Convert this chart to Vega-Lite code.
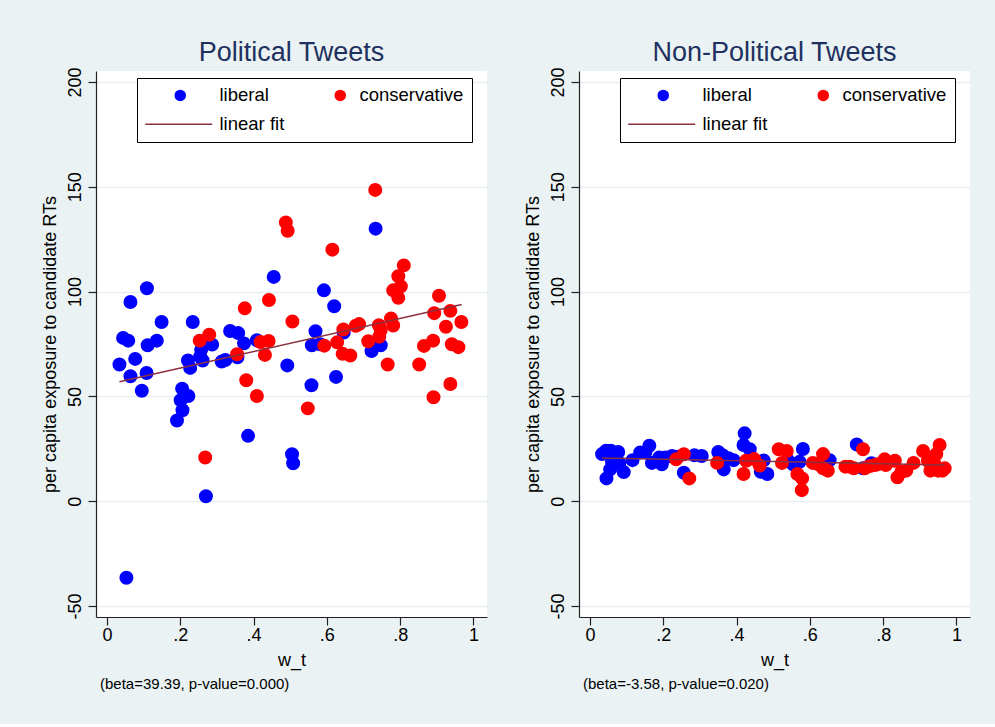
{
  "$schema": "https://vega.github.io/schema/vega-lite/v6.json",
  "background": "#EAF2F3",
  "padding": {"left": 41, "top": 38, "right": 25, "bottom": 32},
  "config": {
    "view": {"fill": "white", "stroke": null},
    "font": "Liberation Sans",
    "axis": {"labelFont": "Liberation Sans", "titleFont": "Liberation Sans", "labelColor": "black", "titleColor": "black", "titleFontWeight": "normal", "labelFontSize": 18, "titleFontSize": 18, "domainColor": "#222222", "domainWidth": 1.2, "tickColor": "#222222", "tickWidth": 1.2, "tickSize": 8},
    "legend": {"labelFont": "Liberation Sans", "title": null, "orient": "none", "legendX": 41, "legendY": 7, "direction": "horizontal", "columns": 2, "gridAlign": "each", "columnPadding": 0, "rowPadding": 10, "padding": 8, "strokeColor": "black", "fillColor": "white", "labelFontSize": 18.5, "labelColor": "black", "labelOffset": 26, "symbolOffset": 30, "symbolSize": 100, "symbolStrokeWidth": 1.5}
  },
  "datasets": {
    "political": [
      {"w_t": 0.053, "exposure": -36.5, "group": "liberal"},
      {"w_t": 0.034, "exposure": 65.2, "group": "liberal"},
      {"w_t": 0.044, "exposure": 77.9, "group": "liberal"},
      {"w_t": 0.058, "exposure": 76.6, "group": "liberal"},
      {"w_t": 0.064, "exposure": 95, "group": "liberal"},
      {"w_t": 0.064, "exposure": 59.6, "group": "liberal"},
      {"w_t": 0.077, "exposure": 67.9, "group": "liberal"},
      {"w_t": 0.095, "exposure": 52.7, "group": "liberal"},
      {"w_t": 0.108, "exposure": 61.2, "group": "liberal"},
      {"w_t": 0.109, "exposure": 101.6, "group": "liberal"},
      {"w_t": 0.111, "exposure": 74.4, "group": "liberal"},
      {"w_t": 0.136, "exposure": 76.6, "group": "liberal"},
      {"w_t": 0.149, "exposure": 85.5, "group": "liberal"},
      {"w_t": 0.191, "exposure": 38.5, "group": "liberal"},
      {"w_t": 0.201, "exposure": 48.2, "group": "liberal"},
      {"w_t": 0.205, "exposure": 53.7, "group": "liberal"},
      {"w_t": 0.206, "exposure": 43.4, "group": "liberal"},
      {"w_t": 0.222, "exposure": 50.2, "group": "liberal"},
      {"w_t": 0.221, "exposure": 67.1, "group": "liberal"},
      {"w_t": 0.227, "exposure": 63.6, "group": "liberal"},
      {"w_t": 0.234, "exposure": 85.5, "group": "liberal"},
      {"w_t": 0.254, "exposure": 69, "group": "liberal"},
      {"w_t": 0.257, "exposure": 72.2, "group": "liberal"},
      {"w_t": 0.261, "exposure": 67.1, "group": "liberal"},
      {"w_t": 0.27, "exposure": 2.4, "group": "liberal"},
      {"w_t": 0.287, "exposure": 74.7, "group": "liberal"},
      {"w_t": 0.313, "exposure": 66.6, "group": "liberal"},
      {"w_t": 0.323, "exposure": 67.4, "group": "liberal"},
      {"w_t": 0.336, "exposure": 81.2, "group": "liberal"},
      {"w_t": 0.358, "exposure": 80.2, "group": "liberal"},
      {"w_t": 0.356, "exposure": 68.7, "group": "liberal"},
      {"w_t": 0.374, "exposure": 75.3, "group": "liberal"},
      {"w_t": 0.385, "exposure": 31.2, "group": "liberal"},
      {"w_t": 0.409, "exposure": 76.8, "group": "liberal"},
      {"w_t": 0.455, "exposure": 107, "group": "liberal"},
      {"w_t": 0.492, "exposure": 64.8, "group": "liberal"},
      {"w_t": 0.505, "exposure": 22.4, "group": "liberal"},
      {"w_t": 0.508, "exposure": 18.1, "group": "liberal"},
      {"w_t": 0.558, "exposure": 55.3, "group": "liberal"},
      {"w_t": 0.559, "exposure": 74.4, "group": "liberal"},
      {"w_t": 0.569, "exposure": 81.1, "group": "liberal"},
      {"w_t": 0.582, "exposure": 74.9, "group": "liberal"},
      {"w_t": 0.592, "exposure": 100.6, "group": "liberal"},
      {"w_t": 0.62, "exposure": 93, "group": "liberal"},
      {"w_t": 0.625, "exposure": 59.3, "group": "liberal"},
      {"w_t": 0.646, "exposure": 80.5, "group": "liberal"},
      {"w_t": 0.722, "exposure": 71.6, "group": "liberal"},
      {"w_t": 0.733, "exposure": 130, "group": "liberal"},
      {"w_t": 0.747, "exposure": 74.4, "group": "liberal"},
      {"w_t": 0.253, "exposure": 76.6, "group": "conservative"},
      {"w_t": 0.268, "exposure": 20.9, "group": "conservative"},
      {"w_t": 0.279, "exposure": 79.4, "group": "conservative"},
      {"w_t": 0.355, "exposure": 70.1, "group": "conservative"},
      {"w_t": 0.376, "exposure": 92, "group": "conservative"},
      {"w_t": 0.38, "exposure": 57.7, "group": "conservative"},
      {"w_t": 0.409, "exposure": 50.2, "group": "conservative"},
      {"w_t": 0.419, "exposure": 75.9, "group": "conservative"},
      {"w_t": 0.431, "exposure": 69.8, "group": "conservative"},
      {"w_t": 0.441, "exposure": 76.4, "group": "conservative"},
      {"w_t": 0.442, "exposure": 96, "group": "conservative"},
      {"w_t": 0.488, "exposure": 133, "group": "conservative"},
      {"w_t": 0.493, "exposure": 129, "group": "conservative"},
      {"w_t": 0.506, "exposure": 85.7, "group": "conservative"},
      {"w_t": 0.548, "exposure": 44.3, "group": "conservative"},
      {"w_t": 0.593, "exposure": 74.2, "group": "conservative"},
      {"w_t": 0.615, "exposure": 120, "group": "conservative"},
      {"w_t": 0.628, "exposure": 75.8, "group": "conservative"},
      {"w_t": 0.643, "exposure": 70.3, "group": "conservative"},
      {"w_t": 0.645, "exposure": 81.9, "group": "conservative"},
      {"w_t": 0.664, "exposure": 69.5, "group": "conservative"},
      {"w_t": 0.679, "exposure": 83.7, "group": "conservative"},
      {"w_t": 0.688, "exposure": 84.5, "group": "conservative"},
      {"w_t": 0.713, "exposure": 76.3, "group": "conservative"},
      {"w_t": 0.732, "exposure": 148.5, "group": "conservative"},
      {"w_t": 0.742, "exposure": 84, "group": "conservative"},
      {"w_t": 0.747, "exposure": 81.6, "group": "conservative"},
      {"w_t": 0.743, "exposure": 78.5, "group": "conservative"},
      {"w_t": 0.766, "exposure": 65.2, "group": "conservative"},
      {"w_t": 0.775, "exposure": 87.2, "group": "conservative"},
      {"w_t": 0.781, "exposure": 83.8, "group": "conservative"},
      {"w_t": 0.781, "exposure": 100.6, "group": "conservative"},
      {"w_t": 0.795, "exposure": 107.3, "group": "conservative"},
      {"w_t": 0.795, "exposure": 97, "group": "conservative"},
      {"w_t": 0.802, "exposure": 102.5, "group": "conservative"},
      {"w_t": 0.81, "exposure": 112.5, "group": "conservative"},
      {"w_t": 0.852, "exposure": 65.2, "group": "conservative"},
      {"w_t": 0.865, "exposure": 74.1, "group": "conservative"},
      {"w_t": 0.89, "exposure": 76.6, "group": "conservative"},
      {"w_t": 0.891, "exposure": 49.6, "group": "conservative"},
      {"w_t": 0.893, "exposure": 89.7, "group": "conservative"},
      {"w_t": 0.906, "exposure": 98, "group": "conservative"},
      {"w_t": 0.925, "exposure": 83.2, "group": "conservative"},
      {"w_t": 0.937, "exposure": 90.8, "group": "conservative"},
      {"w_t": 0.937, "exposure": 55.9, "group": "conservative"},
      {"w_t": 0.941, "exposure": 74.9, "group": "conservative"},
      {"w_t": 0.959, "exposure": 73.5, "group": "conservative"},
      {"w_t": 0.967, "exposure": 85.5, "group": "conservative"},
      {"w_t": 0.034, "exposure": 57.0, "group": "linear fit"},
      {"w_t": 0.968, "exposure": 93.8, "group": "linear fit"}
    ],
    "nonpolitical": [
      {"w_t": 0.033, "exposure": 22.5, "group": "liberal"},
      {"w_t": 0.044, "exposure": 24.1, "group": "liberal"},
      {"w_t": 0.057, "exposure": 24.1, "group": "liberal"},
      {"w_t": 0.064, "exposure": 22.0, "group": "liberal"},
      {"w_t": 0.077, "exposure": 23.5, "group": "liberal"},
      {"w_t": 0.06, "exposure": 18.8, "group": "liberal"},
      {"w_t": 0.08, "exposure": 18.3, "group": "liberal"},
      {"w_t": 0.055, "exposure": 15.2, "group": "liberal"},
      {"w_t": 0.045, "exposure": 10.9, "group": "liberal"},
      {"w_t": 0.092, "exposure": 13.9, "group": "liberal"},
      {"w_t": 0.116, "exposure": 19.6, "group": "liberal"},
      {"w_t": 0.137, "exposure": 23.3, "group": "liberal"},
      {"w_t": 0.151, "exposure": 23.3, "group": "liberal"},
      {"w_t": 0.162, "exposure": 26.5, "group": "liberal"},
      {"w_t": 0.169, "exposure": 18.3, "group": "liberal"},
      {"w_t": 0.189, "exposure": 20.9, "group": "liberal"},
      {"w_t": 0.196, "exposure": 17.6, "group": "liberal"},
      {"w_t": 0.206, "exposure": 20.9, "group": "liberal"},
      {"w_t": 0.224, "exposure": 21.6, "group": "liberal"},
      {"w_t": 0.24, "exposure": 21.2, "group": "liberal"},
      {"w_t": 0.256, "exposure": 13.6, "group": "liberal"},
      {"w_t": 0.285, "exposure": 21.9, "group": "liberal"},
      {"w_t": 0.305, "exposure": 21.6, "group": "liberal"},
      {"w_t": 0.35, "exposure": 23.5, "group": "liberal"},
      {"w_t": 0.362, "exposure": 22.0, "group": "liberal"},
      {"w_t": 0.378, "exposure": 20.5, "group": "liberal"},
      {"w_t": 0.392, "exposure": 19.6, "group": "liberal"},
      {"w_t": 0.365, "exposure": 15.2, "group": "liberal"},
      {"w_t": 0.422, "exposure": 32.4, "group": "liberal"},
      {"w_t": 0.419, "exposure": 26.8, "group": "liberal"},
      {"w_t": 0.436, "exposure": 24.8, "group": "liberal"},
      {"w_t": 0.474, "exposure": 19.5, "group": "liberal"},
      {"w_t": 0.466, "exposure": 14.1, "group": "liberal"},
      {"w_t": 0.484, "exposure": 13.0, "group": "liberal"},
      {"w_t": 0.54, "exposure": 19.6, "group": "liberal"},
      {"w_t": 0.554, "exposure": 17.6, "group": "liberal"},
      {"w_t": 0.572, "exposure": 18.8, "group": "liberal"},
      {"w_t": 0.581, "exposure": 24.9, "group": "liberal"},
      {"w_t": 0.654, "exposure": 19.6, "group": "liberal"},
      {"w_t": 0.728, "exposure": 27.1, "group": "liberal"},
      {"w_t": 0.745, "exposure": 15.7, "group": "liberal"},
      {"w_t": 0.768, "exposure": 18.1, "group": "liberal"},
      {"w_t": 0.235, "exposure": 20.0, "group": "conservative"},
      {"w_t": 0.256, "exposure": 22.4, "group": "conservative"},
      {"w_t": 0.271, "exposure": 10.9, "group": "conservative"},
      {"w_t": 0.347, "exposure": 18.3, "group": "conservative"},
      {"w_t": 0.426, "exposure": 19.3, "group": "conservative"},
      {"w_t": 0.448, "exposure": 20.1, "group": "conservative"},
      {"w_t": 0.463, "exposure": 17.0, "group": "conservative"},
      {"w_t": 0.419, "exposure": 13.0, "group": "conservative"},
      {"w_t": 0.515, "exposure": 24.8, "group": "conservative"},
      {"w_t": 0.524, "exposure": 18.3, "group": "conservative"},
      {"w_t": 0.537, "exposure": 24.0, "group": "conservative"},
      {"w_t": 0.566, "exposure": 13.0, "group": "conservative"},
      {"w_t": 0.579, "exposure": 10.9, "group": "conservative"},
      {"w_t": 0.578, "exposure": 5.3, "group": "conservative"},
      {"w_t": 0.608, "exposure": 18.3, "group": "conservative"},
      {"w_t": 0.622, "exposure": 17.7, "group": "conservative"},
      {"w_t": 0.636, "exposure": 22.5, "group": "conservative"},
      {"w_t": 0.636, "exposure": 15.7, "group": "conservative"},
      {"w_t": 0.649, "exposure": 14.6, "group": "conservative"},
      {"w_t": 0.697, "exposure": 16.5, "group": "conservative"},
      {"w_t": 0.709, "exposure": 16.5, "group": "conservative"},
      {"w_t": 0.72, "exposure": 15.7, "group": "conservative"},
      {"w_t": 0.745, "exposure": 24.8, "group": "conservative"},
      {"w_t": 0.75, "exposure": 15.7, "group": "conservative"},
      {"w_t": 0.764, "exposure": 16.8, "group": "conservative"},
      {"w_t": 0.778, "exposure": 17.3, "group": "conservative"},
      {"w_t": 0.786, "exposure": 17.7, "group": "conservative"},
      {"w_t": 0.804, "exposure": 20.0, "group": "conservative"},
      {"w_t": 0.807, "exposure": 17.3, "group": "conservative"},
      {"w_t": 0.832, "exposure": 19.3, "group": "conservative"},
      {"w_t": 0.839, "exposure": 11.4, "group": "conservative"},
      {"w_t": 0.85, "exposure": 14.1, "group": "conservative"},
      {"w_t": 0.863, "exposure": 14.6, "group": "conservative"},
      {"w_t": 0.883, "exposure": 18.3, "group": "conservative"},
      {"w_t": 0.909, "exposure": 24.0, "group": "conservative"},
      {"w_t": 0.922, "exposure": 19.3, "group": "conservative"},
      {"w_t": 0.929, "exposure": 14.6, "group": "conservative"},
      {"w_t": 0.945, "exposure": 22.5, "group": "conservative"},
      {"w_t": 0.939, "exposure": 18.1, "group": "conservative"},
      {"w_t": 0.954, "exposure": 26.8, "group": "conservative"},
      {"w_t": 0.95, "exposure": 14.6, "group": "conservative"},
      {"w_t": 0.962, "exposure": 14.6, "group": "conservative"},
      {"w_t": 0.968, "exposure": 15.7, "group": "conservative"},
      {"w_t": 0.033, "exposure": 20.6, "group": "linear fit"},
      {"w_t": 0.968, "exposure": 17.3, "group": "linear fit"}
    ]
  },
  "hconcat": [
    {
      "title": {"text": "(beta=39.39, p-value=0.000)", "orient": "bottom", "anchor": "start", "frame": "group", "dx": 4, "offset": 8, "fontSize": 15, "fontWeight": "normal", "font": "Liberation Sans", "color": "black"},
      "vconcat": [
        {
          "width": 391,
          "height": 546,
          "title": {"text": "Political Tweets", "anchor": "middle", "frame": "group", "fontSize": 27, "fontWeight": "normal", "font": "Liberation Sans", "color": "#1E3160", "offset": 0},
          "encoding": {
            "x": {"field": "w_t", "type": "quantitative", "scale": {"domain": [-0.03, 1.037], "nice": false, "zero": false},
              "axis": {"values": [0, 0.2, 0.4, 0.6, 0.8, 1], "grid": false, "title": "w_t", "labelPadding": 1, "titlePadding": 7,
                "labelExpr": "datum.value == 0 ? '0' : datum.value == 1 ? '1' : replace(format(datum.value, '.1f'), '0.', '.')"}},
            "y": {"field": "exposure", "type": "quantitative", "scale": {"domain": [-55.2, 205.2], "nice": false, "zero": false},
              "axis": {"values": [-50, 0, 50, 100, 150, 200], "grid": true, "gridColor": "#E6EEF1", "gridWidth": 1.5, "title": "per capita exposure to candidate RTs",
                "labelExpr": "toString(datum.value)",
                "labelAngle": 270, "labelAlign": "center", "labelBaseline": "bottom", "labelPadding": 4, "titlePadding": 7}}
          },
          "layer": [
            {
              "data": {"name": "political"},
              "transform": [{"filter": "datum.group != 'linear fit'"}],
              "mark": {"type": "point", "filled": true, "size": 156, "strokeWidth": 1.5, "opacity": 1},
              "encoding": {
                "fill": {"field": "group", "type": "nominal", "scale": {"domain": ["liberal", "conservative", "linear fit"], "range": ["#0000FF", "#FF0000", "#8B3040"]}},
                "stroke": {"field": "group", "type": "nominal", "scale": {"domain": ["liberal", "conservative", "linear fit"], "range": ["#0000FF", "#FF0000", "#8B3040"]}}
              }
            },
            {
              "data": {"name": "political"},
              "transform": [{"filter": "datum.group == 'none'"}],
              "mark": {"type": "point", "filled": true, "size": 156, "strokeWidth": 1.5, "opacity": 1},
              "encoding": {
                "fill": {"field": "group", "type": "nominal", "scale": {"domain": ["liberal", "conservative", "linear fit"], "range": ["#0000FF", "#FF0000", "#8B3040"]}},
                "stroke": {"field": "group", "type": "nominal", "scale": {"domain": ["liberal", "conservative", "linear fit"], "range": ["#0000FF", "#FF0000", "#8B3040"]}},
                "shape": {"field": "group", "type": "nominal", "scale": {"domain": ["liberal", "conservative", "linear fit"], "range": ["M-1.8,0A1,1,0,1,0,0.2,0A1,1,0,1,0,-1.8,0Z", "M2.2,0A1,1,0,1,0,4.2,0A1,1,0,1,0,2.2,0Z", "M-7.8,0H5.6"]}}
              }
            },
            {
              "data": {"name": "political"},
              "transform": [{"filter": "datum.group == 'linear fit'"}],
              "mark": {"type": "line", "strokeWidth": 1.5},
              "encoding": {
                "stroke": {"field": "group", "type": "nominal", "scale": {"domain": ["liberal", "conservative", "linear fit"], "range": ["#0000FF", "#FF0000", "#8B3040"]}}
              }
            }
          ]
        }
      ]
    },
    {
      "title": {"text": "(beta=-3.58, p-value=0.020)", "orient": "bottom", "anchor": "start", "frame": "group", "dx": 4, "offset": 8, "fontSize": 15, "fontWeight": "normal", "font": "Liberation Sans", "color": "black"},
      "vconcat": [
        {
          "width": 391,
          "height": 546,
          "title": {"text": "Non-Political Tweets", "anchor": "middle", "frame": "group", "fontSize": 27, "fontWeight": "normal", "font": "Liberation Sans", "color": "#1E3160", "offset": 0},
          "encoding": {
            "x": {"field": "w_t", "type": "quantitative", "scale": {"domain": [-0.03, 1.037], "nice": false, "zero": false},
              "axis": {"values": [0, 0.2, 0.4, 0.6, 0.8, 1], "grid": false, "title": "w_t", "labelPadding": 1, "titlePadding": 7,
                "labelExpr": "datum.value == 0 ? '0' : datum.value == 1 ? '1' : replace(format(datum.value, '.1f'), '0.', '.')"}},
            "y": {"field": "exposure", "type": "quantitative", "scale": {"domain": [-55.2, 205.2], "nice": false, "zero": false},
              "axis": {"values": [-50, 0, 50, 100, 150, 200], "grid": true, "gridColor": "#E6EEF1", "gridWidth": 1.5, "title": "per capita exposure to candidate RTs",
                "labelExpr": "toString(datum.value)",
                "labelAngle": 270, "labelAlign": "center", "labelBaseline": "bottom", "labelPadding": 4, "titlePadding": 7}}
          },
          "layer": [
            {
              "data": {"name": "nonpolitical"},
              "transform": [{"filter": "datum.group != 'linear fit'"}],
              "mark": {"type": "point", "filled": true, "size": 156, "strokeWidth": 1.5, "opacity": 1},
              "encoding": {
                "fill": {"field": "group", "type": "nominal", "scale": {"domain": ["liberal", "conservative", "linear fit"], "range": ["#0000FF", "#FF0000", "#8B3040"]}},
                "stroke": {"field": "group", "type": "nominal", "scale": {"domain": ["liberal", "conservative", "linear fit"], "range": ["#0000FF", "#FF0000", "#8B3040"]}}
              }
            },
            {
              "data": {"name": "nonpolitical"},
              "transform": [{"filter": "datum.group == 'none'"}],
              "mark": {"type": "point", "filled": true, "size": 156, "strokeWidth": 1.5, "opacity": 1},
              "encoding": {
                "fill": {"field": "group", "type": "nominal", "scale": {"domain": ["liberal", "conservative", "linear fit"], "range": ["#0000FF", "#FF0000", "#8B3040"]}},
                "stroke": {"field": "group", "type": "nominal", "scale": {"domain": ["liberal", "conservative", "linear fit"], "range": ["#0000FF", "#FF0000", "#8B3040"]}},
                "shape": {"field": "group", "type": "nominal", "scale": {"domain": ["liberal", "conservative", "linear fit"], "range": ["M-1.8,0A1,1,0,1,0,0.2,0A1,1,0,1,0,-1.8,0Z", "M2.2,0A1,1,0,1,0,4.2,0A1,1,0,1,0,2.2,0Z", "M-7.8,0H5.6"]}}
              }
            },
            {
              "data": {"name": "nonpolitical"},
              "transform": [{"filter": "datum.group == 'linear fit'"}],
              "mark": {"type": "line", "strokeWidth": 1.5},
              "encoding": {
                "stroke": {"field": "group", "type": "nominal", "scale": {"domain": ["liberal", "conservative", "linear fit"], "range": ["#0000FF", "#FF0000", "#8B3040"]}}
              }
            }
          ]
        }
      ]
    }
  ],
  "spacing": 37,
  "resolve": {"scale": {"fill": "independent", "stroke": "independent", "shape": "independent"}, "legend": {"fill": "independent", "stroke": "independent", "shape": "independent"}}
}
